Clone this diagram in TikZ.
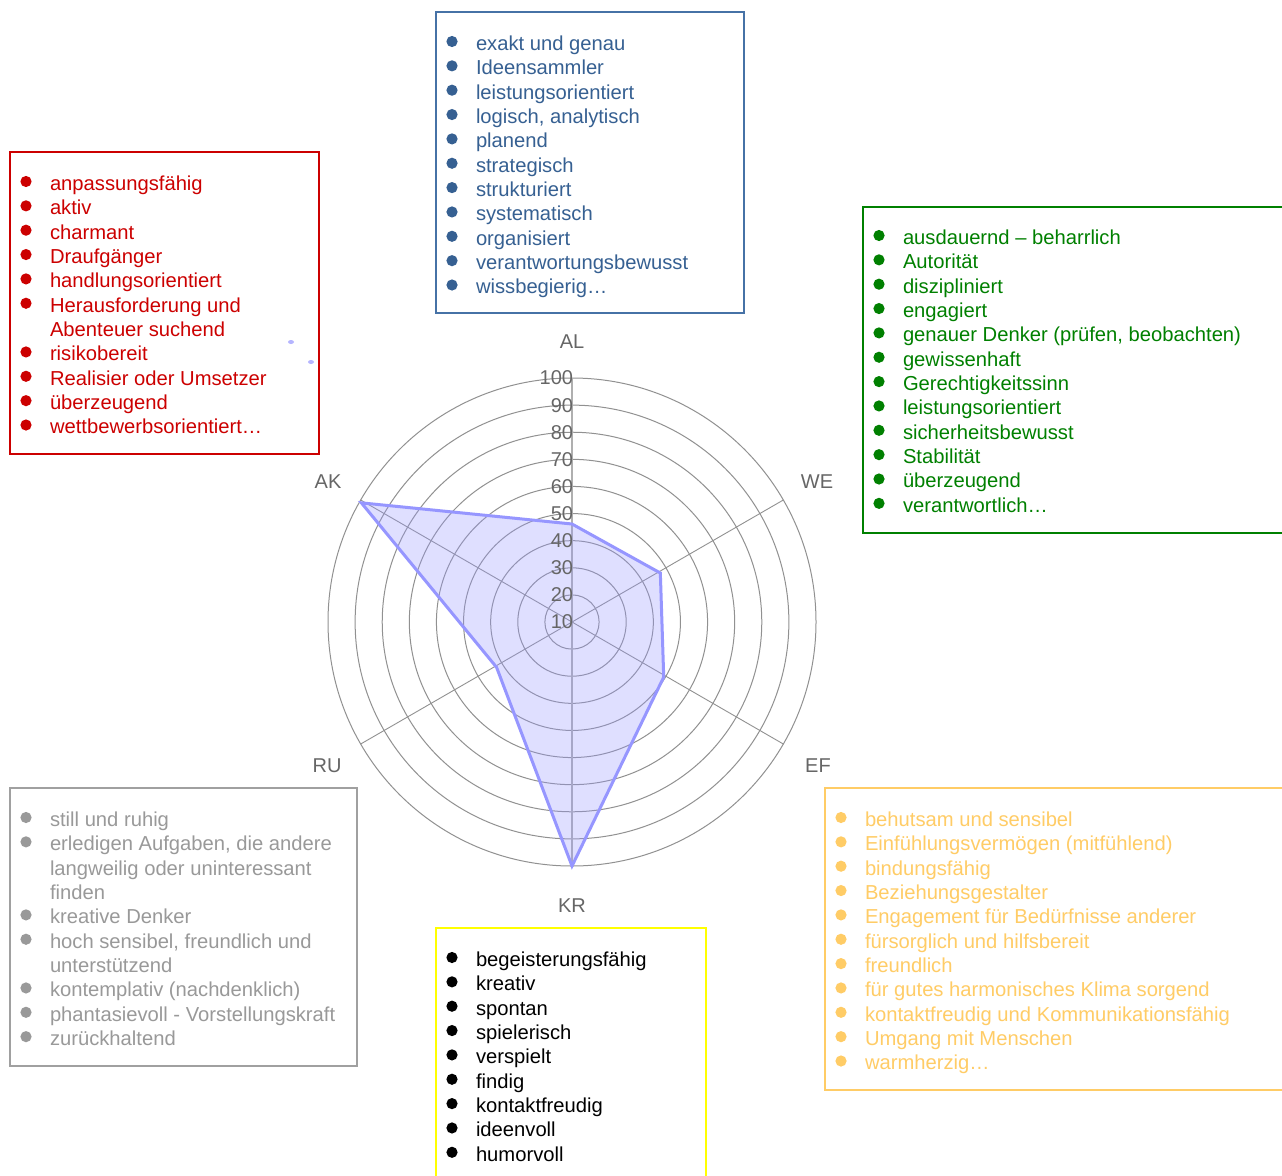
\documentclass[tikz,border=0pt]{standalone}
\usepackage{fontspec}
\setmainfont{Liberation Sans}
\definecolor{cblue}{RGB}{54,96,146}
\definecolor{cblueb}{RGB}{70,114,166}
\definecolor{cred}{RGB}{204,0,0}
\definecolor{cgreen}{RGB}{0,128,0}
\definecolor{cgray}{RGB}{153,153,153}
\definecolor{cgrayb}{RGB}{160,160,160}
\definecolor{corange}{RGB}{255,204,102}
\definecolor{cyellow}{RGB}{255,255,0}
\definecolor{ringc}{RGB}{145,145,145}
\definecolor{axc}{RGB}{175,175,175}
\definecolor{labc}{RGB}{102,102,102}
\definecolor{polyc}{RGB}{150,150,255}
\newcommand\bulletlist[6]{%
  \foreach \t/\b [count=\i from 0] in {#6} {%
    \pgfmathsetmacro\yb{#4+24.35*\i+7.3}%
    \node[txt, text=#1] (#5\i) at (#3,\yb) {\t};
    \ifnum\b=1 \fill[#1] (#2,{\yb-8.8}) circle[radius=5.6pt]; \fi
  }%
}
\begin{document}
\begin{tikzpicture}[x=1pt,y=-1pt,
  every node/.style={inner sep=0pt, outer sep=0pt},
  txt/.style={font=\fontsize{20.2}{24}\selectfont, anchor=base west},
  lbl/.style={font=\fontsize{20}{24}\selectfont, text=labc},
  ticklbl/.style={font=\fontsize{20}{24}\selectfont, text=labc, anchor=east},
  ring/.style={draw=ringc, line width=1pt},
  spoke/.style={draw=ringc, line width=0.9pt},
  listbox/.style={draw=#1, line width=2pt, anchor=north west, fill=none}]
\useasboundingbox (0,0) rectangle (1282,1175);
\clip (0,0) rectangle (1282,1175);
\fill[white] (0,0) rectangle (1282,1175);

% ---------- radar chart ----------
\coordinate (O) at (572,622);
\begin{scope}[shift={(O)}]
  \foreach \k in {1,...,9} \draw[ring] (0,0) circle[radius={27.111pt*\k}];
  \draw[draw=axc, line width=1.8pt] (90:244pt) -- (-90:244pt);
  \foreach \a in {30,-30,210,150} \draw[spoke] (0,0) -- (\a:244pt);
  \coordinate (pAL) at (90:98pt);
  \coordinate (pWE) at (29:101pt);
  \coordinate (pEF) at (-31:107pt);
  \coordinate (pKR) at (-90:244pt);
  \coordinate (pRU) at (211:88pt);
  \coordinate (pAK) at (150.5:242pt);
  \fill[polyc, fill opacity=0.3] (pAL) -- (pWE) -- (pEF) -- (pKR) -- (pRU) -- (pAK) -- cycle;
  \draw[polyc, line width=3pt, line join=miter] (pAL) -- (pWE) -- (pEF) -- (pKR) -- (pRU) -- (pAK) -- cycle;
\end{scope}
\foreach \k [evaluate=\k as \lab using int(10*\k+10)] in {0,...,9}
  \node[ticklbl] (tk\k) at (573,{622-27.111*\k}) {\lab};
\node[lbl] (AL) at (572,342) {AL};
\node[lbl] (WE) at (817,482) {WE};
\node[lbl] (EF) at (818,766) {EF};
\node[lbl] (KR) at (572,906) {KR};
\node[lbl] (RU) at (327,766) {RU};
\node[lbl] (AK) at (328,482) {AK};
% stray legend dots
\fill[polyc, opacity=0.7] (291,342) ellipse (3pt and 2pt);
\fill[polyc, opacity=0.7] (311,362) ellipse (3pt and 2pt);

% ---------- boxes ----------
\node[listbox=cblueb, minimum width=308pt, minimum height=301pt] (boxAL) at (436,12) {};
\node[listbox=cred, minimum width=309pt, minimum height=302pt] (boxAK) at (10,152) {};
\node[listbox=cgreen, minimum width=440pt, minimum height=326pt] (boxWE) at (863,207) {};
\node[listbox=cgrayb, minimum width=347pt, minimum height=278pt] (boxRU) at (10,788) {};
\node[listbox=corange, minimum width=480pt, minimum height=302pt] (boxEF) at (825,788) {};
\node[listbox=cyellow, minimum width=270pt, minimum height=280pt] (boxKR) at (436,928) {};

\bulletlist{cblue}{452}{476}{43}{al}{exakt und genau/1, Ideensammler/1, leistungsorientiert/1, {logisch, analytisch}/1, planend/1, strategisch/1, strukturiert/1, systematisch/1, organisiert/1, verantwortungsbewusst/1, wissbegierig…/1}
\bulletlist{cred}{26}{50}{183}{ak}{anpassungsfähig/1, aktiv/1, charmant/1, Draufgänger/1, handlungsorientiert/1, Herausforderung und/1, Abenteuer suchend/0, risikobereit/1, Realisier oder Umsetzer/1, überzeugend/1, wettbewerbsorientiert…/1}
\bulletlist{cgreen}{879}{903}{237}{we}{ausdauernd – beharrlich/1, Autorität/1, diszipliniert/1, engagiert/1, {genauer Denker (prüfen, beobachten)}/1, gewissenhaft/1, Gerechtigkeitssinn/1, leistungsorientiert/1, sicherheitsbewusst/1, Stabilität/1, überzeugend/1, verantwortlich…/1}
\bulletlist{cgray}{26}{50}{819}{ru}{still und ruhig/1, {erledigen Aufgaben, die andere}/1, langweilig oder uninteressant/0, finden/0, kreative Denker/1, {hoch sensibel, freundlich und}/1, unterstützend/0, kontemplativ (nachdenklich)/1, phantasievoll - Vorstellungskraft/1, zurückhaltend/1}
\bulletlist{corange}{841}{865}{819}{ef}{behutsam und sensibel/1, Einfühlungsvermögen (mitfühlend)/1, bindungsfähig/1, Beziehungsgestalter/1, Engagement für Bedürfnisse anderer/1, fürsorglich und hilfsbereit/1, freundlich/1, für gutes harmonisches Klima sorgend/1, kontaktfreudig und Kommunikationsfähig/1, Umgang mit Menschen/1, warmherzig…/1}
\bulletlist{black}{452}{476}{959}{kr}{begeisterungsfähig/1, kreativ/1, spontan/1, spielerisch/1, verspielt/1, findig/1, kontaktfreudig/1, ideenvoll/1, humorvoll/1}
\end{tikzpicture}
\end{document}
